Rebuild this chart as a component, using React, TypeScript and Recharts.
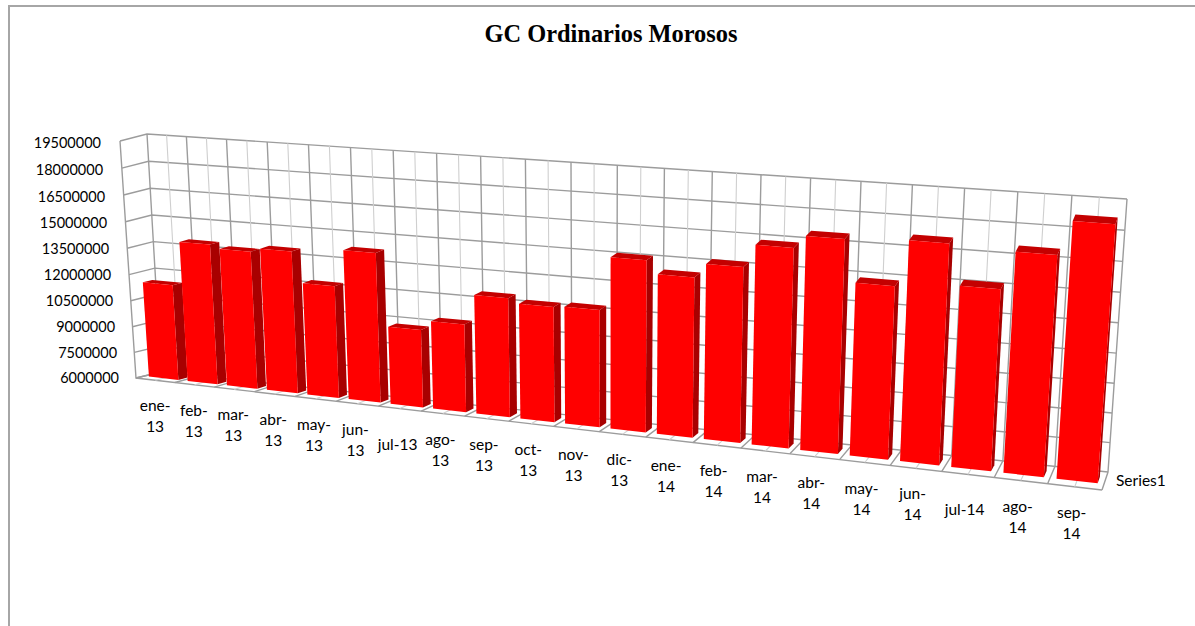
import React from 'react';
import { BarChart, Bar, XAxis, YAxis, CartesianGrid } from 'recharts';

const categories = [
  'ene-13', 'feb-13', 'mar-13', 'abr-13', 'may-13', 'jun-13', 'jul-13', 'ago-13', 'sep-13', 'oct-13', 'nov-13',
  'dic-13', 'ene-14', 'feb-14', 'mar-14', 'abr-14', 'may-14', 'jun-14', 'jul-14', 'ago-14', 'sep-14',
];
const morosos = [
  11460000, 13960000, 13760000, 13980000, 12280000, 14310000, 10310000, 10850000, 12510000, 12270000, 12340000,
  15180000, 14510000, 15260000, 16450000, 17100000, 14950000, 17300000, 15250000, 17150000, 18850000,
];
const yTicks = [6000000, 7500000, 9000000, 10500000, 12000000, 13500000, 15000000, 16500000, 18000000, 19500000];
const chartData = categories.map((mes, i) => ({ mes, valor: morosos[i] }));

const WIDTH = 1195;
const HEIGHT = 626;
// plot rectangle the scales work in, everything is then projected onto the 3D box
const margin = { top: 100, right: 100, bottom: 100, left: 100 };
const AXIS_W = 60;
const AXIS_H = 30;
const plot = {
  left: margin.left + AXIS_W,
  top: margin.top,
  width: WIDTH - margin.left - margin.right - AXIS_W,
  height: HEIGHT - margin.top - margin.bottom - AXIS_H,
};

type Pt = [number, number];

// unit square -> quad, corners in order (0,0) (1,0) (1,1) (0,1)
function homography([p0, p1, p2, p3]: Pt[]) {
  const dx1 = p1[0] - p2[0];
  const dx2 = p3[0] - p2[0];
  const sx = p0[0] - p1[0] + p2[0] - p3[0];
  const dy1 = p1[1] - p2[1];
  const dy2 = p3[1] - p2[1];
  const sy = p0[1] - p1[1] + p2[1] - p3[1];
  const det = dx1 * dy2 - dx2 * dy1;
  const g = (sx * dy2 - dx2 * sy) / det;
  const h = (dx1 * sy - sx * dy1) / det;
  const a = p1[0] - p0[0] + g * p1[0];
  const b = p3[0] - p0[0] + h * p3[0];
  const d = p1[1] - p0[1] + g * p1[1];
  const e = p3[1] - p0[1] + h * p3[1];
  return (u: number, v: number): Pt => {
    const q = g * u + h * v + 1;
    return [(a * u + b * v + p0[0]) / q, (d * u + e * v + p0[1]) / q];
  };
}

const frontPlane = homography([[136, 378], [1102, 490], [1121, 217], [120, 141]]);
const backPlane = homography([[161, 372], [1108, 472], [1127, 199], [147, 134]]);

function project(rawU: number, v: number, w: number): Pt {
  // the corners alone give too little foreshortening along x
  const u = rawU - 0.025 * rawU * (1 - rawU);
  const f = frontPlane(u, v);
  const b = backPlane(u, v);
  return [f[0] + (b[0] - f[0]) * w, f[1] + (b[1] - f[1]) * w];
}

const toU = (x: number) => (x - plot.left) / plot.width;
const toV = (y: number) => (plot.top + plot.height - y) / plot.height;
const pts = (list: Pt[]) => list.map((p) => `${p[0].toFixed(1)},${p[1].toFixed(1)}`).join(' ');

const GRID = '#9c9c9c';
const GRID_LIGHT = '#cfcfcf';
const BAR_FRONT = 0.33;
const BAR_BACK = 0.7;
const Y_FONT = 14.5;
const X_FONT = 15.5;

function Bar3D(props: any) {
  const { x, y, width, height } = props;
  const u0 = toU(x);
  const u1 = toU(x + width);
  const v0 = toV(y + height);
  const v1 = toV(y);
  const wf = BAR_FRONT;
  const wb = BAR_BACK;
  return (
    <g>
      <polygon fill='#a80000' points={pts([project(u1, v0, wf), project(u1, v0, wb), project(u1, v1, wb), project(u1, v1, wf)])} />
      <polygon fill='#c40000' points={pts([project(u0, v1, wf), project(u1, v1, wf), project(u1, v1, wb), project(u0, v1, wb)])} />
      <polygon fill='#ff0000' points={pts([project(u0, v0, wf), project(u1, v0, wf), project(u1, v1, wf), project(u0, v1, wf)])} />
    </g>
  );
}

function HorizontalLine(props: any) {
  const v = toV(props.y1);
  return (
    <polyline
      key={props.key}
      fill='none'
      stroke={GRID}
      strokeWidth={1.4}
      points={pts([project(0, v, 0), project(0, v, 1), project(1, v, 1)])}
    />
  );
}

function VerticalLine(props: any) {
  const u = toU(props.x1);
  const major = Math.round(u * categories.length * 2) % 2 === 0;
  const stroke = major ? GRID : GRID_LIGHT;
  const floorFront = project(u, 0, 0);
  const floorBack = project(u, 0, 1);
  const top = project(u, 1, 1);
  return (
    <g key={props.key}>
      <polyline fill='none' stroke={stroke} strokeWidth={major ? 1.4 : 1.1} points={pts([floorFront, floorBack, top])} />
      {u === 0 && <polyline fill='none' stroke={GRID} strokeWidth={1.4} points={pts([project(0, 1, 0), floorFront, project(1, 0, 0)])} />}
    </g>
  );
}

const gridX = () => {
  const n = categories.length * 2;
  return Array.from({ length: n + 1 }, (_, i) => plot.left + (i * plot.width) / n);
};

function YTick({ y, payload }: any) {
  const v = toV(y);
  const [px, py] = project(0, v, 0);
  return (
    <text x={px - 17 - 2 * v} y={py + 5 + 2 * v} textAnchor='end' fontFamily='Lato' fontSize={Y_FONT} fill='#000'>
      {payload.value}
    </text>
  );
}

function XTick({ x, payload }: any) {
  const u = toU(x);
  const [px, py] = project(u, 0, 0);
  const label: string = payload.value;
  // excel wraps everything but the narrow jul labels
  const lines = label.startsWith('jul') ? [label] : [label.slice(0, 4), label.slice(4)];
  const cx = px - 3 + 3 * (1 - u) - 6 * u * (1 - u);
  if (lines.length === 1) {
    return (
      <text x={cx} y={py + 41} textAnchor='middle' fontFamily='Lato' fontSize={X_FONT} fill='#000'>
        {label}
      </text>
    );
  }
  return (
    <text textAnchor='middle' fontFamily='Lato' fontSize={X_FONT} fill='#000'>
      <tspan x={cx} y={py + 31}>{lines[0]}</tspan>
      <tspan x={cx} y={py + 52}>{lines[1]}</tspan>
    </text>
  );
}

export default function App() {
  const seriesPos = project(1, 0, 0.5);
  return (
    <div style={{ position: 'absolute', left: 0, top: 0, width: WIDTH, height: HEIGHT, overflow: 'hidden', background: '#fff' }}>
      <div style={{ position: 'absolute', left: 8, top: 5, right: 0, bottom: 0, borderLeft: '2px solid #a6a6a6', borderTop: '2px solid #a6a6a6' }} />
      <div style={{ position: 'absolute', left: 0, top: 0 }}>
        <BarChart width={WIDTH} height={HEIGHT} data={chartData} margin={margin} barCategoryGap='12%'>
          <CartesianGrid
            horizontal={HorizontalLine}
            vertical={VerticalLine}
            verticalCoordinatesGenerator={gridX}
          />
          <XAxis dataKey='mes' height={AXIS_H} axisLine={false} tickLine={false} interval={0} tick={XTick} />
          <YAxis domain={[6000000, 19500000]} ticks={yTicks} width={AXIS_W} axisLine={false} tickLine={false} tick={YTick} />
          <Bar dataKey='valor' shape={Bar3D} isAnimationActive={false} />
          <text x={611} y={42} textAnchor='middle' fontFamily='Liberation Serif' fontWeight='bold' fontSize={24.4} fill='#000'>
            GC Ordinarios Morosos
          </text>
          <text x={seriesPos[0] + 11} y={seriesPos[1] + 5} fontFamily='Lato' fontSize={X_FONT} fill='#000'>
            Series1
          </text>
        </BarChart>
      </div>
    </div>
  );
}
